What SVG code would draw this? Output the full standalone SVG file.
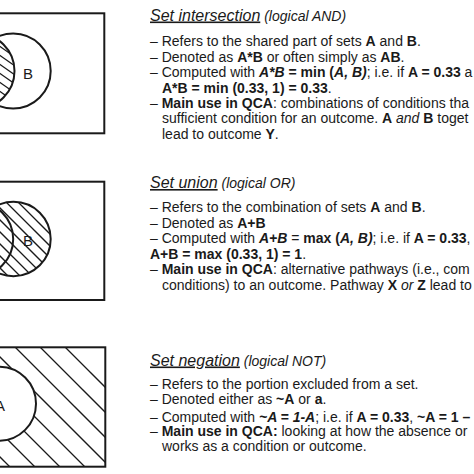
<svg xmlns="http://www.w3.org/2000/svg" width="474" height="474" viewBox="0 0 474 474">
<style>
text{font-family:"Liberation Sans",Arial,sans-serif;fill:#1a1a1a;font-size:14px}
.t{font-size:16px;font-style:italic;text-decoration:underline}
.s{font-size:14px;font-style:italic}
.b{font-weight:bold}
.i{font-style:italic}
.bi{font-weight:bold;font-style:italic}
.frame{fill:none;stroke:#1a1a1a;stroke-width:2}
.circ{fill:none;stroke:#1a1a1a;stroke-width:2}
.h line{stroke:#1a1a1a;stroke-width:1.3}
.lbl{font-size:15px;text-anchor:middle}
</style>
<defs>
<clipPath id="cA1"><circle cx="-23" cy="71" r="37.5"/></clipPath>
<clipPath id="cB1"><circle cx="13.2" cy="71" r="37.5"/></clipPath>
<clipPath id="cU2"><circle cx="-24" cy="239" r="37.2"/><circle cx="13.5" cy="239" r="37.2"/></clipPath>
<clipPath id="cR3"><rect x="-60" y="347.3" width="165.3" height="119.4"/></clipPath>
</defs>
<rect width="474" height="474" fill="#fff"/>

<g id="intersection">
<rect class="frame" x="-60" y="13.3" width="164.3" height="120"/>
<g clip-path="url(#cA1)"><g clip-path="url(#cB1)" class="h">
<line x1="-25" y1="-7" x2="25" y2="28"/><line x1="-25" y1="2" x2="25" y2="37"/>
<line x1="-25" y1="11" x2="25" y2="46"/><line x1="-25" y1="20" x2="25" y2="55"/>
<line x1="-25" y1="29" x2="25" y2="64"/><line x1="-25" y1="38" x2="25" y2="73"/>
<line x1="-25" y1="47" x2="25" y2="82"/><line x1="-25" y1="56" x2="25" y2="91"/>
<line x1="-25" y1="65" x2="25" y2="100"/><line x1="-25" y1="74" x2="25" y2="109"/>
<line x1="-25" y1="83" x2="25" y2="118"/><line x1="-25" y1="92" x2="25" y2="127"/>
</g></g>
<circle class="circ" cx="-23" cy="71" r="37.5"/>
<circle class="circ" cx="13.2" cy="71" r="37.5"/>
<text class="lbl" x="28" y="79">B</text>
<text x="150" y="20.5"><tspan class="t">Set intersection</tspan><tspan class="s"> (logical AND)</tspan></text>
<text x="150" y="46">– Refers to the shared part of sets <tspan class="b">A</tspan> and <tspan class="b">B</tspan>.</text>
<text x="150" y="61.5">– Denoted as <tspan class="b">A*B</tspan> or often simply as <tspan class="b">AB</tspan>.</text>
<text x="150" y="77">– Computed with <tspan class="bi">A*B</tspan><tspan class="b"> = min (</tspan><tspan class="bi">A, B)</tspan>; i.e. if <tspan class="b">A = 0.33</tspan> a</text>
<text x="162" y="92.5"><tspan class="b">A*B = min (0.33, 1) = 0.33</tspan>.</text>
<text x="150" y="108">– <tspan class="b">Main use in QCA</tspan>: combinations of conditions tha</text>
<text x="162" y="123">sufficient condition for an outcome. <tspan class="b">A</tspan> <tspan class="i">and</tspan> <tspan class="b">B</tspan> toget</text>
<text x="162" y="138.5">lead to outcome <tspan class="b">Y</tspan>.</text>
</g>

<g id="union">
<rect class="frame" x="-60" y="181.7" width="164.3" height="118.3"/>
<g clip-path="url(#cU2)" class="h">
<line x1="-150" y1="190" x2="-50" y2="290"/><line x1="-138" y1="190" x2="-38" y2="290"/>
<line x1="-126" y1="190" x2="-26" y2="290"/><line x1="-114" y1="190" x2="-14" y2="290"/>
<line x1="-102" y1="190" x2="-2" y2="290"/><line x1="-90" y1="190" x2="10" y2="290"/>
<line x1="-78" y1="190" x2="22" y2="290"/><line x1="-66" y1="190" x2="34" y2="290"/>
<line x1="-54" y1="190" x2="46" y2="290"/><line x1="-42" y1="190" x2="58" y2="290"/>
<line x1="-30" y1="190" x2="70" y2="290"/><line x1="-18" y1="190" x2="82" y2="290"/>
<line x1="-6" y1="190" x2="94" y2="290"/><line x1="6" y1="190" x2="106" y2="290"/>
<line x1="18" y1="190" x2="118" y2="290"/><line x1="30" y1="190" x2="130" y2="290"/>
<line x1="42" y1="190" x2="142" y2="290"/>
</g>
<circle class="circ" cx="-24" cy="239" r="37.2"/>
<circle class="circ" cx="13.5" cy="239" r="37.2"/>
<text class="lbl" x="28" y="246">B</text>
<text x="150" y="188"><tspan class="t">Set union</tspan><tspan class="s"> (logical OR)</tspan></text>
<text x="150" y="212">– Refers to the combination of sets <tspan class="b">A</tspan> and <tspan class="b">B</tspan>.</text>
<text x="150" y="227.5">– Denoted as <tspan class="b">A+B</tspan></text>
<text x="150" y="243">– Computed with <tspan class="bi">A+B</tspan> = <tspan class="b">max (</tspan><tspan class="bi">A, B)</tspan>; i.e. if <tspan class="b">A = 0.33</tspan>,</text>
<text x="150" y="258.5"><tspan class="b">A+B = max (0.33, 1) = 1</tspan>.</text>
<text x="150" y="274">– <tspan class="b">Main use in QCA</tspan>: alternative pathways (i.e., com</text>
<text x="162" y="289.5">conditions) to an outcome. Pathway <tspan class="b">X</tspan> <tspan class="i">or</tspan> <tspan class="b">Z</tspan> lead to</text>
</g>

<g id="negation">
<g clip-path="url(#cR3)" class="h">
<line x1="-20" y1="437" x2="130" y2="587"/><line x1="-20" y1="412" x2="130" y2="562"/>
<line x1="-20" y1="387" x2="130" y2="537"/><line x1="-20" y1="362" x2="130" y2="512"/>
<line x1="-20" y1="337" x2="130" y2="487"/><line x1="-20" y1="312" x2="130" y2="462"/>
<line x1="-20" y1="287" x2="130" y2="437"/><line x1="-20" y1="262" x2="130" y2="412"/>
</g>
<rect class="frame" x="-60" y="347.3" width="165.3" height="119.4"/>
<circle cx="-1" cy="403.7" r="37" fill="#fff" stroke="#1a1a1a" stroke-width="2"/>
<text class="lbl" x="0" y="411">A</text>
<text x="150" y="365.5"><tspan class="t">Set negation</tspan><tspan class="s"> (logical NOT)</tspan></text>
<text x="150" y="388.5">– Refers to the portion excluded from a set.</text>
<text x="150" y="403.5">– Denoted either as <tspan class="b">~A</tspan> or <tspan class="b">a</tspan>.</text>
<text x="150" y="421.5">– Computed with <tspan class="bi">~A = 1-A</tspan>; i.e. if <tspan class="b">A = 0.33</tspan>, <tspan class="b">~A = 1 –</tspan></text>
<text x="150" y="436">– <tspan class="b">Main use in QCA:</tspan> looking at how the absence or</text>
<text x="162" y="451">works as a condition or outcome.</text>
</g>
<g id="connectors"/>
</svg>
